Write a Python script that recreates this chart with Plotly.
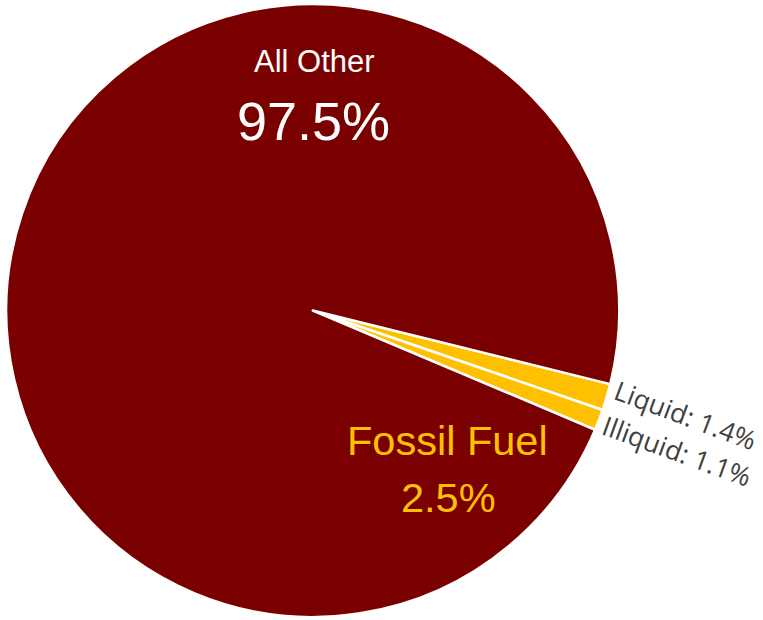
import plotly.graph_objects as go

labels = ["Liquid", "Illiquid", "All Other"]
values = [1.4, 1.1, 97.5]
colors = ["#FFC000", "#FFC000", "#7A0000"]

W, H = 763, 620

def px(x):
    return x / W

def py(y):
    return 1 - y / H

fig = go.Figure(go.Pie(
    labels=labels,
    values=values,
    sort=False,
    direction="clockwise",
    rotation=103.9,
    marker=dict(colors=colors, line=dict(color="white", width=2.5)),
    textinfo="none",
    hoverinfo="label+percent",
    domain=dict(x=[px(6), px(619.5)], y=[py(617), py(4)]),
    showlegend=False,
))

ann = []
ann.append(dict(text="All Other", x=px(314), y=py(62), font=dict(family="Liberation Sans, Arial", size=31, color="white")))
ann.append(dict(text=f"{values[2]}%", x=px(313), y=py(121), font=dict(family="Liberation Sans, Arial", size=54, color="white")))
fossil = values[0] + values[1]
ann.append(dict(text="Fossil Fuel", x=px(447), y=py(440), font=dict(family="Liberation Sans, Arial", size=41.5, color="#FFC000")))
ann.append(dict(text=f"{fossil:.1f}%", x=px(448), y=py(497), font=dict(family="Liberation Sans, Arial", size=41.5, color="#FFC000")))
ann.append(dict(text=f"{labels[0]}: {values[0]}%", x=px(685), y=py(415), textangle=20.5, font=dict(family="Open Sans", size=26.5, color="#404040")))
ann.append(dict(text=f"{labels[1]}: {values[1]}%", x=px(677), y=py(451), textangle=20, font=dict(family="Open Sans", size=26.5, color="#404040")))
for a in ann:
    a.update(xref="paper", yref="paper", showarrow=False, xanchor="center", yanchor="middle")

fig.update_layout(
    width=W, height=H,
    margin=dict(l=0, r=0, t=0, b=0),
    paper_bgcolor="white",
    plot_bgcolor="white",
    annotations=ann,
)

fig.write_html("out.html")
